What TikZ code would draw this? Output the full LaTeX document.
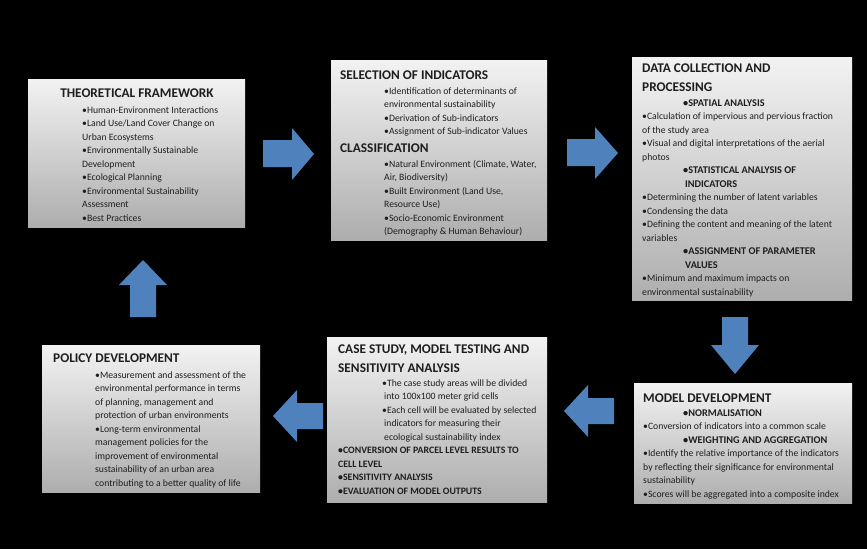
\documentclass[tikz,border=0pt]{standalone}
\usepackage{fontspec}
\setmainfont{Carlito}
\definecolor{arrowblue}{HTML}{4F81BD}
\definecolor{txt}{HTML}{1E1E1E}
\newcommand\subhd[1]{{\fontsize{10.3}{13.5}\selectfont\bfseries #1}}
\newcommand\subhdb[1]{{\fontsize{9.8}{13.5}\selectfont\bfseries #1}}
\begin{document}
\begin{tikzpicture}[x=1pt,y=-1pt,
  box/.style={draw=none, inner sep=0pt, anchor=north west, top color=black!5, bottom color=black!32},
  ttl/.style={font=\fontsize{13.3}{19}\selectfont\bfseries, text=txt, inner sep=0pt, align=left},
  body/.style={font=\fontsize{9.7}{13.5}\selectfont, text=txt, inner sep=0pt, align=left, anchor=base west},
  blockarrow/.style={fill=arrowblue, draw=none}
]
\useasboundingbox (0,0) rectangle (867,549);
\fill[black] (0,0) rectangle (867,549);

% boxes
\node[box, minimum width=217pt, minimum height=148pt] (b1) at (28,79) {};
\node[box, minimum width=216pt, minimum height=180pt] (b2) at (331,60) {};
\node[box, minimum width=220pt, minimum height=243pt] (b3) at (632,57) {};
\node[box, minimum width=218pt, minimum height=120pt] (b4) at (634,383) {};
\node[box, minimum width=220pt, minimum height=165pt] (b5) at (327,337) {};
\node[box, minimum width=218pt, minimum height=147pt] (b6) at (42,345) {};

% box 1 (multi-line nodes are placed by the baseline of their last line)
\node[ttl, anchor=base] (h1) at (137,97) {THEORETICAL FRAMEWORK};
\node[body] (t1) at (82,221) {•Human-Environment Interactions\\
•Land Use/Land Cover Change on\\
Urban Ecosystems\\
•Environmentally Sustainable\\
Development\\
•Ecological Planning\\
•Environmental Sustainability\\
Assessment\\
•Best Practices};

% box 2
\node[ttl, anchor=base west] (h2a) at (340,79) {SELECTION OF INDICATORS};
\node[body] (t2a) at (384,134.5) {•Identification of determinants of\\
environmental sustainability\\
•Derivation of Sub-indicators\\
•Assignment of Sub-indicator Values};
\node[ttl, anchor=base west] (h2b) at (340,152) {CLASSIFICATION};
\node[body] (t2b) at (384,234.5) {•Natural Environment (Climate, Water,\\
Air, Biodiversity)\\
•Built Environment (Land Use,\\
Resource Use)\\
•Socio-Economic Environment\\
(Demography \& Human Behaviour)};

% box 3
\node[ttl, anchor=base west] (h3) at (642,91) {DATA COLLECTION AND\\PROCESSING};
\node[body] (t3) at (642,295) {\hspace*{41pt}\subhd{•SPATIAL ANALYSIS}\\
•Calculation of impervious and pervious fraction\\
of the study area\\
•Visual and digital interpretations of the aerial\\
photos\\
\hspace*{41pt}\subhd{•STATISTICAL ANALYSIS OF}\\
\hspace*{43pt}\subhd{INDICATORS}\\
•Determining the number of latent variables\\
•Condensing the data\\
•Defining the content and meaning of the latent\\
variables\\
\hspace*{41pt}\subhd{•ASSIGNMENT OF PARAMETER}\\
\hspace*{43pt}\subhd{VALUES}\\
•Minimum and maximum impacts on\\
environmental sustainability};

% box 4
\node[ttl, anchor=base west] (h4) at (643,402) {MODEL DEVELOPMENT};
\node[body] (t4) at (643,497) {\hspace*{40pt}\subhd{•NORMALISATION}\\
•Conversion of indicators into a common scale\\
\hspace*{40pt}\subhd{•WEIGHTING AND AGGREGATION}\\
•Identify the relative importance  of the indicators\\
by reflecting their significance for environmental\\
sustainability\\
•Scores will be aggregated into a composite index};

% box 5
\node[ttl, anchor=base west] (h5) at (338,372) {CASE STUDY, MODEL TESTING AND\\SENSITIVITY ANALYSIS};
\node[body] (t5) at (338,494) {\hspace*{44pt}•The case study areas will be divided\\
\hspace*{46pt}into 100x100 meter grid cells\\
\hspace*{44pt}•Each cell will be evaluated by selected\\
\hspace*{46pt}indicators for measuring their\\
\hspace*{46pt}ecological sustainability index\\
\subhdb{•CONVERSION OF PARCEL LEVEL RESULTS TO}\\
\subhdb{CELL LEVEL}\\
\subhdb{•SENSITIVITY ANALYSIS}\\
\subhdb{•EVALUATION OF MODEL OUTPUTS}};

% box 6
\node[ttl, anchor=base west] (h6) at (53,362) {POLICY DEVELOPMENT};
\node[body] (t6) at (95,486) {•Measurement and assessment of the\\
environmental performance in terms\\
of planning, management and\\
protection of urban environments\\
•Long-term environmental\\
management policies for the\\
improvement of environmental\\
sustainability of an urban area\\
contributing to a better quality of life};

% block arrows
\fill[blockarrow] (263,140) -- (292,140) -- (292,128) -- (314,154) -- (292,180) -- (292,167) -- (263,167) -- cycle;
\fill[blockarrow] (567,139) -- (595,139) -- (595,127) -- (618,153) -- (595,179) -- (595,166) -- (567,166) -- cycle;
\fill[blockarrow] (722,317) -- (748,317) -- (748,345) -- (759,345) -- (735,374) -- (711,345) -- (722,345) -- cycle;
\fill[blockarrow] (614,398) -- (588,398) -- (588,385) -- (564,411) -- (588,437) -- (588,424) -- (614,424) -- cycle;
\fill[blockarrow] (323,403) -- (297,403) -- (297,390) -- (273,416) -- (297,442) -- (297,429) -- (323,429) -- cycle;
\fill[blockarrow] (130,317) -- (156,317) -- (156,285) -- (167,285) -- (143,260) -- (119,285) -- (130,285) -- cycle;
\end{tikzpicture}
\end{document}
